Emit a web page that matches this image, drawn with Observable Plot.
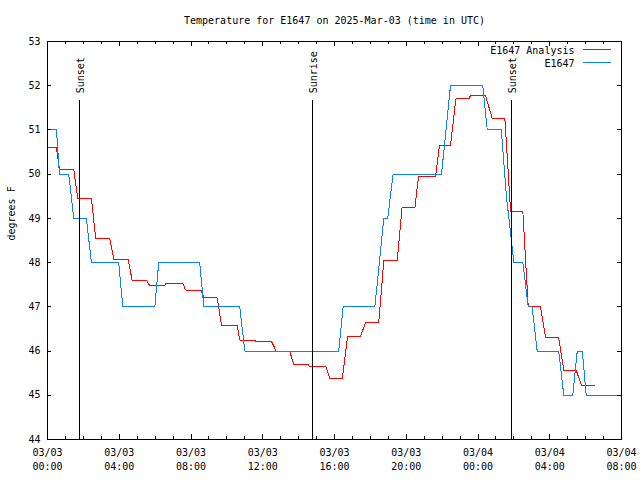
<!DOCTYPE html>
<html><head><meta charset="utf-8">
<script src="https://cdn.jsdelivr.net/npm/d3@7"></script>
<script src="https://cdn.jsdelivr.net/npm/@observablehq/plot@0.6"></script>
<style>body{margin:0;background:#fff} svg{display:block}</style>
</head><body><div id="chart"></div>
<script>
const titleText = "Temperature for E1647 on 2025-Mar-03 (time in UTC)";
const yLabel = "degrees F";
const seriesNames = ["E1647 Analysis", "E1647"];
const seriesColors = ["#ff0000", "#0a80ff"];

const analysisTimes = [
 "2025-03-03T00:00","2025-03-03T00:30","2025-03-03T00:40","2025-03-03T01:28","2025-03-03T01:41",
 "2025-03-03T02:27","2025-03-03T02:41","2025-03-03T03:28","2025-03-03T03:42","2025-03-03T04:30",
 "2025-03-03T04:43","2025-03-03T05:31","2025-03-03T05:42","2025-03-03T06:31","2025-03-03T06:35",
 "2025-03-03T07:33","2025-03-03T07:42","2025-03-03T08:34","2025-03-03T08:43","2025-03-03T09:28",
 "2025-03-03T09:42","2025-03-03T10:35","2025-03-03T10:43","2025-03-03T11:33","2025-03-03T11:36",
 "2025-03-03T12:29","2025-03-03T12:45","2025-03-03T13:30","2025-03-03T13:44","2025-03-03T14:34",
 "2025-03-03T14:36","2025-03-03T15:32","2025-03-03T15:44","2025-03-03T16:26","2025-03-03T16:44",
 "2025-03-03T17:27","2025-03-03T17:44","2025-03-03T18:28","2025-03-03T18:45","2025-03-03T19:30",
 "2025-03-03T19:46","2025-03-03T20:29","2025-03-03T20:41","2025-03-03T21:38","2025-03-03T21:51",
 "2025-03-03T22:28","2025-03-03T22:46","2025-03-03T23:29","2025-03-03T23:35","2025-03-04T00:25",
 "2025-03-04T00:48","2025-03-04T01:30","2025-03-04T01:49","2025-03-04T02:30","2025-03-04T02:48",
 "2025-03-04T03:29","2025-03-04T03:46","2025-03-04T04:30","2025-03-04T04:47","2025-03-04T05:29",
 "2025-03-04T05:46","2025-03-04T06:31"];
const analysisValues = [
 50.6,50.6,50.1,50.1,49.45,
 49.45,48.55,48.55,48.07,48.07,
 47.6,47.6,47.48,47.48,47.52,
 47.52,47.38,47.38,47.2,47.2,
 46.58,46.58,46.25,46.25,46.22,
 46.22,46.0,46.0,45.69,45.69,
 45.64,45.64,45.38,45.38,46.34,
 46.34,46.64,46.64,48.05,48.05,
 49.25,49.25,49.95,49.95,50.65,
 50.65,51.7,51.7,51.78,51.78,
 51.25,51.25,49.16,49.16,47.0,
 47.0,46.3,46.3,45.56,45.56,
 45.22,45.22];

const obsTimes = [
 "2025-03-03T00:00","2025-03-03T00:30","2025-03-03T00:40","2025-03-03T01:11","2025-03-03T01:28",
 "2025-03-03T02:10","2025-03-03T02:27","2025-03-03T03:58","2025-03-03T04:12","2025-03-03T05:59",
 "2025-03-03T06:12","2025-03-03T08:29","2025-03-03T08:43","2025-03-03T10:43","2025-03-03T11:00",
 "2025-03-03T16:14","2025-03-03T16:29","2025-03-03T18:15","2025-03-03T18:45","2025-03-03T18:58",
 "2025-03-03T19:16","2025-03-03T21:58","2025-03-03T22:28","2025-03-04T00:16","2025-03-04T00:31",
 "2025-03-04T01:18","2025-03-04T01:35","2025-03-04T02:00","2025-03-04T02:30","2025-03-04T02:48",
 "2025-03-04T03:01","2025-03-04T03:18","2025-03-04T04:30","2025-03-04T04:47","2025-03-04T05:17",
 "2025-03-04T05:32","2025-03-04T05:49","2025-03-04T06:02","2025-03-04T08:00"];
const obsValues = [
 51.0,51.0,50.0,50.0,49.0,
 49.0,48.0,48.0,47.0,47.0,
 48.0,48.0,47.0,47.0,46.0,
 46.0,47.0,47.0,49.0,49.0,
 50.0,50.0,52.0,52.0,51.0,
 51.0,49.5,48.0,48.0,47.0,
 47.0,46.0,46.0,45.0,45.0,
 46.0,46.0,45.0,45.0];

const eventTimes = ["2025-03-03T01:47","2025-03-03T14:46","2025-03-04T01:53"];
const eventLabels = ["Sunset","Sunrise","Sunset"];

const majorTickTimes = ["2025-03-03T00:00","2025-03-03T04:00","2025-03-03T08:00","2025-03-03T12:00",
 "2025-03-03T16:00","2025-03-03T20:00","2025-03-04T00:00","2025-03-04T04:00","2025-03-04T08:00"];
const yTicks = [44,45,46,47,48,49,50,51,52,53];

const parse = d3.utcParse("%Y-%m-%dT%H:%M");
const analysis = analysisTimes.map((t,i)=>({t: parse(t), v: analysisValues[i]}));
const obs = obsTimes.map((t,i)=>({t: parse(t), v: obsValues[i]}));
const events = eventTimes.map((t,i)=>({t: parse(t), label: eventLabels[i]}));
const majors = majorTickTimes.map(parse);
const start = majors[0], end = majors[majors.length-1];
const minors = d3.utcHour.range(start, d3.utcHour.offset(end, 1));
const fmt = d3.utcFormat("%m/%d\n%H:%M");

const W = 640, H = 480, mL = 47, mR = 19, mT = 41, mB = 41;
const pw = W - mL - mR, ph = H - mT - mB;
const crisp = {shapeRendering: "crispEdges"};

const chart = Plot.plot({
  width: W, height: H,
  marginLeft: mL, marginRight: mR, marginTop: mT, marginBottom: mB,
  style: {fontFamily: "'DejaVu Sans Mono', monospace", fontSize: "10px", color: "black", background: "white", overflow: "visible"},
  x: {type: "utc", domain: [start, end], axis: null},
  y: {domain: [44, 53], axis: null},
  marks: [
    Plot.lineY(analysis, {x: "t", y: "v", stroke: seriesColors[0], strokeWidth: 1, ...crisp}),
    Plot.lineY(obs, {x: "t", y: "v", stroke: seriesColors[1], strokeWidth: 1, ...crisp}),
    Plot.ruleX(events, {x: "t", y1: 44, y2: 51.67, stroke: "black", strokeWidth: 1, ...crisp}),
    Plot.text(events, {x: "t", y: 51.67, text: "label", rotate: -90, textAnchor: "start", dy: -7, dx: 1, fill: "black"}),
    // ticks bottom/top
    Plot.tickX(majors, {x: d => d, insetTop: ph - 5, stroke: "black", ...crisp}),
    Plot.tickX(minors, {x: d => d, insetTop: ph - 3, stroke: "black", ...crisp}),
    Plot.tickX(majors, {x: d => d, insetBottom: ph - 5, stroke: "black", ...crisp}),
    Plot.tickX(minors, {x: d => d, insetBottom: ph - 3, stroke: "black", ...crisp}),
    // ticks left/right
    Plot.tickY(yTicks, {y: d => d, insetRight: pw - 4, stroke: "black", ...crisp}),
    Plot.tickY(yTicks, {y: d => d, insetLeft: pw - 4, stroke: "black", ...crisp}),
    Plot.frame({stroke: "black", ...crisp}),
    // tick labels
    Plot.text(yTicks, {y: d => d, frameAnchor: "left", dx: -7, textAnchor: "end", text: d => String(d), fill: "black"}),
    Plot.text(majors, {x: d => d, frameAnchor: "bottom", lineAnchor: "top", dy: 7, lineHeight: 1.4, text: d => fmt(d), fill: "black"}),
    // title and y label
    Plot.text([titleText], {frameAnchor: "top", lineAnchor: "middle", dy: -21, text: d => d, fill: "black"}),
    Plot.text([yLabel], {frameAnchor: "left", dx: -36, rotate: -90, text: d => d, fill: "black"}),
    // legend
    Plot.text([seriesNames[0]], {frameAnchor: "top-right", lineAnchor: "middle", dx: -47, dy: 9, textAnchor: "end", text: d => d, fill: "black"}),
    Plot.text([seriesNames[1]], {frameAnchor: "top-right", lineAnchor: "middle", dx: -47, dy: 22, textAnchor: "end", text: d => d, fill: "black"}),
    Plot.ruleY([53], {dy: 8, insetLeft: 536, insetRight: 10, stroke: seriesColors[0], ...crisp}),
    Plot.ruleY([53], {dy: 21, insetLeft: 536, insetRight: 10, stroke: seriesColors[1], ...crisp})
  ]
});
document.getElementById("chart").appendChild(chart);
</script>
</body></html>
